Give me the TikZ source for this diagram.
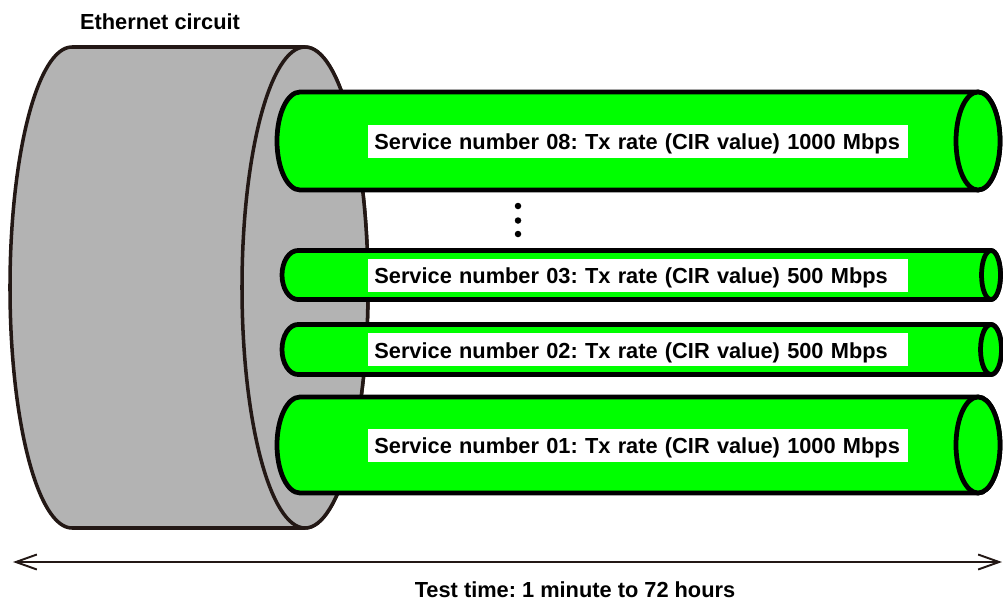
\documentclass[tikz,border=0pt]{standalone}
\usepackage{fontspec}
\setmainfont{Liberation Sans}
\usepackage{tikz}
\usetikzlibrary{arrows.meta}

\definecolor{cablegray}{HTML}{B3B3B3}
\definecolor{cableline}{HTML}{231815}
\definecolor{tubegreen}{HTML}{00FF00}

\tikzset{
  labelfont/.style={font=\fontsize{12.4pt}{14pt}\bfseries\frenchspacing},
  cable/.style={draw=cableline, line width=2pt, fill=cablegray},
  tube/.style={draw=black, line width=2.7pt, fill=tubegreen, line join=round},
  svclabel/.style={labelfont, fill=white, anchor=west, text width=10.56cm, align=left,
    inner xsep=0.12cm, inner ysep=0pt, minimum height=0.66cm,
    text height=2.2ex, text depth=0.35ex},
}

% #1 left x, #2 right x, #3 centre y, #4 half height, #5 left rx, #6 right rx
\newcommand{\tube}[6]{%
  \draw[tube] (#1,#3+#4) -- (#2,#3+#4)
    arc[start angle=90, end angle=-90, x radius=#6, y radius=#4]
    -- (#1,#3-#4)
    arc[start angle=270, end angle=90, x radius=#5, y radius=#4] -- cycle;
  \draw[tube] (#2,#3) ellipse[x radius=#6, y radius=#4];
}

\begin{document}
\begin{tikzpicture}
  \useasboundingbox (0,0) rectangle (20.06,12.08);

  % the ethernet cable
  \draw[cable] (1.44,11.14) -- (6.1,11.14)
    arc[start angle=90, end angle=-90, x radius=1.26, y radius=4.81]
    -- (1.44,1.52)
    arc[start angle=270, end angle=90, x radius=1.24, y radius=4.81] -- cycle;
  \draw[cable] (6.1,6.33) ellipse[x radius=1.26, y radius=4.81];
  \node[labelfont] (eth) at (3.2,11.64) {Ethernet circuit};

  % services
  \tube{6.0}{19.56}{9.26}{0.98}{0.46}{0.44}
  \tube{5.96}{19.82}{6.58}{0.49}{0.32}{0.19}
  \tube{5.96}{19.82}{5.09}{0.5}{0.32}{0.21}
  \tube{6.0}{19.56}{3.18}{0.96}{0.46}{0.44}

  \node[svclabel] (s08) at (7.36,9.26) {Service number 08: Tx rate (CIR value) 1000 Mbps};
  \node[svclabel] (s03) at (7.36,6.58) {Service number 03: Tx rate (CIR value) 500 Mbps};
  \node[svclabel] (s02) at (7.36,5.09) {Service number 02: Tx rate (CIR value) 500 Mbps};
  \node[svclabel] (s01) at (7.36,3.18) {Service number 01: Tx rate (CIR value) 1000 Mbps};

  \fill (10.36,7.96) circle (0.065);
  \fill (10.36,7.67) circle (0.065);
  \fill (10.36,7.40) circle (0.065);

  % test time
  \coordinate (tl) at (0.26,0.84);
  \coordinate (tr) at (20.04,0.84);
  \draw[cableline, line width=1.1pt, {Straight Barb[length=0.42cm, width=0.3cm]}-{Straight Barb[length=0.42cm, width=0.3cm]}] (tl) -- (tr);
  \node[labelfont] (time) at (11.5,0.28) {Test time: 1 minute to 72 hours};
\end{tikzpicture}
\end{document}
